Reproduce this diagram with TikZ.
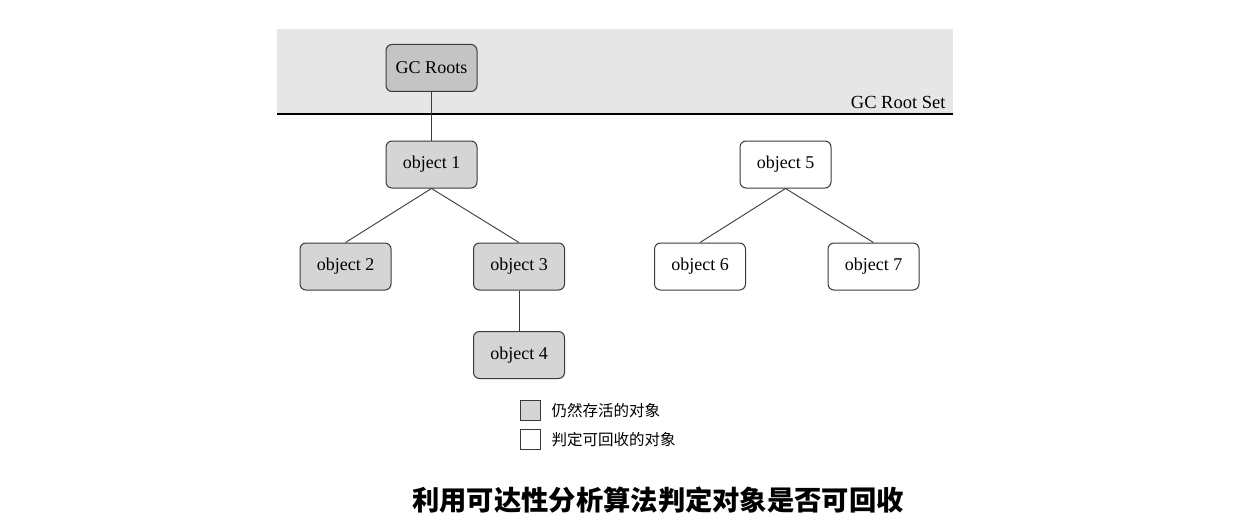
\documentclass[tikz,border=0pt]{standalone}
\usepackage{fontspec}
\setmainfont{Liberation Serif}
\newfontfamily\cjk{Noto Sans CJK SC}
\usepackage{tikz}

\definecolor{bandgray}{HTML}{E6E6E6}
\definecolor{rootgray}{HTML}{C4C4C4}
\definecolor{livegray}{HTML}{D5D5D5}
\definecolor{edgegray}{HTML}{3A3A3A}

\begin{document}
\begin{tikzpicture}[x=1pt,y=-1pt,
	obj/.style={draw=edgegray, line width=1pt, rounded corners=6pt, minimum width=91pt, minimum height=47pt, inner sep=0pt, font=\fontsize{18}{20}\selectfont},
	live/.style={obj, fill=livegray},
	dead/.style={obj, fill=white},
	link/.style={draw=edgegray, line width=0.9pt},
	key/.style={draw=edgegray, line width=0.8pt, minimum size=20pt, inner sep=0pt}]
	\useasboundingbox (0,0) rectangle (1236,524);

	% root set band
	\fill[bandgray] (277,29) rectangle (953,114);
	\draw[line width=1.2pt] (277,114) -- (953,114);
	\node[anchor=base east, font=\fontsize{18.5}{20}\selectfont] (rootset) at (949,109) {GC Root Set};

	\node[obj, fill=rootgray] (roots) at (431.5,68) {GC Roots};
	\node[live] (obj1) at (431.5,164.5) {object 1};
	\node[live] (obj2) at (345.5,266.5) {object 2};
	\node[live] (obj3) at (519,266.5) {object 3};
	\node[live] (obj4) at (519,355) {object 4};
	\node[dead] (obj5) at (785.5,164.5) {object 5};
	\node[dead] (obj6) at (700,266.5) {object 6};
	\node[dead] (obj7) at (873.5,266.5) {object 7};

	\foreach \a/\b in {roots/obj1, obj1/obj2, obj1/obj3, obj3/obj4, obj5/obj6, obj5/obj7}
		\draw[link] (\a.south) -- (\b.north);

	% legend
	\node[key, fill=livegray] (keylive) at (530.5,410.5) {};
	\node[key, fill=white] (keydead) at (530.5,439.5) {};
	\node[anchor=west, font=\cjk\fontsize{15.5}{17}\selectfont] (txtlive) at (548,410.5) {仍然存活的对象};
	\node[anchor=west, font=\cjk\fontsize{15.5}{17}\selectfont] (txtdead) at (548,439.5) {判定可回收的对象};

	\node[font=\cjk\bfseries\fontsize{27.3}{30}\selectfont] (title) at (658,500) {利用可达性分析算法判定对象是否可回收};
\end{tikzpicture}
\end{document}
